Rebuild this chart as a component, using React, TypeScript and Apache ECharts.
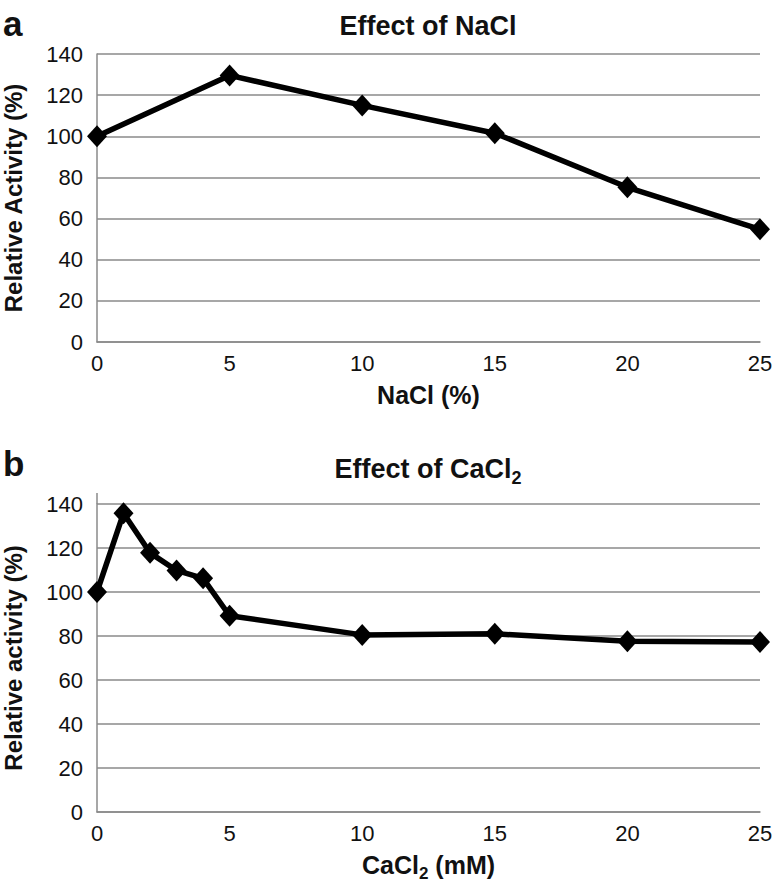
import React, { useEffect, useRef } from "react";
import * as echarts from "echarts";

const naclX = [0, 5, 10, 15, 20, 25];
const naclY = [100, 129.6, 115, 101.5, 75.2, 54.8];
const caclX = [0, 1, 2, 3, 4, 5, 10, 15, 20, 25];
const caclY = [100, 135.8, 117.8, 109.8, 106.2, 89.2, 80.5, 81, 77.6, 77.3];
const yTicks = { min: 0, max: 140, interval: 20 };
const xTicks = { min: 0, max: 25, interval: 5 };

const FONT = "Liberation Sans, Arial, Helvetica, sans-serif";
const GRID_COLOR = "#8a8a8a";
const TEXT = "#111";

export default function App() {
  const ref = useRef<HTMLDivElement>(null);
  useEffect(() => {
    document.body.style.margin = "0";
    const chart = echarts.init(ref.current!, null, { renderer: "svg" });
    const yAxisBase = (gridIndex: number, name: string) => ({
      type: "value",
      gridIndex,
      ...yTicks,
      name,
      nameLocation: "middle",
      nameGap: 72,
      nameTextStyle: { fontFamily: FONT, fontSize: 24, fontWeight: "bold", color: TEXT },
      axisLine: { show: true, lineStyle: { color: GRID_COLOR, width: 1.5 } },
      axisTick: { show: false },
      axisLabel: { fontFamily: FONT, fontSize: 22, color: TEXT, margin: 14 },
      splitLine: { show: true, lineStyle: { color: GRID_COLOR, width: 1.5 } },
    });
    const xAxisBase = (gridIndex: number, name: string, rich?: any, gap = 40) => ({
      type: "value",
      gridIndex,
      ...xTicks,
      name,
      nameLocation: "middle",
      nameGap: gap,
      nameTextStyle: { fontFamily: FONT, fontSize: 25, fontWeight: "bold", color: TEXT, rich },
      axisLine: { show: true, onZero: false, lineStyle: { color: GRID_COLOR, width: 1.5 } },
      axisTick: { show: false },
      axisLabel: { fontFamily: FONT, fontSize: 22, color: TEXT, margin: 10 },
      splitLine: { show: false },
    });
    const subRich = {
      sub: { fontFamily: FONT, fontSize: 17, fontWeight: "bold", color: TEXT, verticalAlign: "bottom", lineHeight: 34 },
    };
    const lineSeries = (idx: number, xs: number[], ys: number[]) => ({
      type: "line",
      xAxisIndex: idx,
      yAxisIndex: idx,
      data: xs.map((x, i) => [x, ys[i]]),
      symbol: "diamond",
      symbolSize: [20, 22],
      lineStyle: { color: "#000", width: 5.5 },
      itemStyle: { color: "#000" },
      z: 5,
    });
    chart.setOption({
      animation: false,
      backgroundColor: "#fff",
      grid: [
        { left: 97, right: 16, top: 54, height: 288, outerBoundsMode: "none", containLabel: false },
        { left: 97, right: 16, top: 504, height: 308, outerBoundsMode: "none", containLabel: false },
      ],
      xAxis: [
        xAxisBase(0, "NaCl (%)"),
        xAxisBase(1, "CaCl{sub|2} (mM)", subRich, 36),
      ],
      yAxis: [
        yAxisBase(0, "Relative Activity (%)"),
        yAxisBase(1, "Relative activity (%)"),
      ],
      series: [lineSeries(0, naclX, naclY), lineSeries(1, caclX, caclY)],
      graphic: [
        {
          type: "text",
          x: 3,
          y: 23,
          style: { text: "a", fontFamily: FONT, fontSize: 35, fontWeight: "bold", fill: TEXT, verticalAlign: "middle" },
        },
        {
          type: "text",
          x: 3,
          y: 463,
          style: { text: "b", fontFamily: FONT, fontSize: 35, fontWeight: "bold", fill: TEXT, verticalAlign: "middle" },
        },
        {
          type: "text",
          x: 428,
          y: 26,
          style: { text: "Effect of NaCl", fontFamily: FONT, fontSize: 27, fontWeight: "bold", fill: TEXT, align: "center", verticalAlign: "middle" },
        },
        {
          type: "text",
          x: 428,
          y: 469,
          style: {
            text: "Effect of CaCl{sub|2}",
            fontFamily: FONT,
            fontSize: 27,
            fontWeight: "bold",
            fill: TEXT,
            align: "center",
            verticalAlign: "middle",
            lineHeight: 36,
            rich: { sub: { fontFamily: FONT, fontSize: 18, fontWeight: "bold", fill: TEXT, verticalAlign: "bottom", lineHeight: 36 } },
          },
        },
        {
          type: "line",
          shape: { x1: 97, y1: 493, x2: 97, y2: 504 },
          style: { stroke: GRID_COLOR, lineWidth: 1.5 },
        },
      ],
    });
    return () => chart.dispose();
  }, []);
  return <div ref={ref} style={{ width: 776, height: 886 }} />;
}
